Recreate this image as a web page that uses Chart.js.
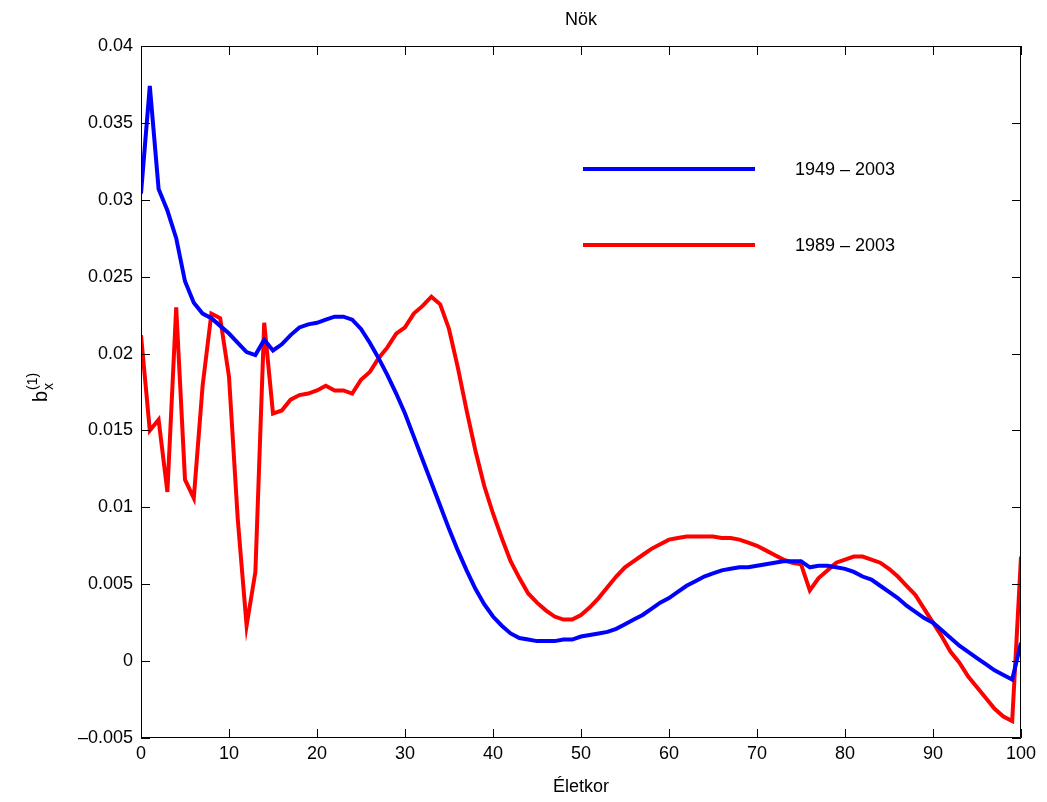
<!DOCTYPE html>
<html lang="hu">
  <head>
    <meta charset="UTF-8" />
    <title>Nök</title>
    <style>
      body {
        margin: 0;
        background: #fff;
      }
      #wrap {
        width: 1047px;
        height: 802px;
      }
    </style>
    <script src="https://cdn.jsdelivr.net/npm/chart.js"></script>
  </head>
  <body>
    <div id="wrap"><canvas id="bx"></canvas></div>

    <script>
      // ages 0..100
      const ages = Array.from({ length: 101 }, (_, i) => i);

      // b_x(1), 1949 - 2003
      const b1949 = [
        0.0304, 0.0374, 0.0307, 0.0293, 0.0275, 0.0247, 0.0233, 0.0226, 0.0223, 0.0218,
        0.0213, 0.0207, 0.0201, 0.0199, 0.0209, 0.0202, 0.0206, 0.0212, 0.0217, 0.0219,
        0.022, 0.0222, 0.0224, 0.0224, 0.0222, 0.0216, 0.0207, 0.0197, 0.0186, 0.0174,
        0.0161, 0.0146, 0.0131, 0.0116, 0.0101, 0.0086, 0.0072, 0.0059, 0.0047, 0.0037,
        0.0029, 0.0023, 0.0018, 0.0015, 0.0014, 0.0013, 0.0013, 0.0013, 0.0014, 0.0014,
        0.0016, 0.0017, 0.0018, 0.0019, 0.0021, 0.0024, 0.0027, 0.003, 0.0034, 0.0038,
        0.0041, 0.0045, 0.0049, 0.0052, 0.0055, 0.0057, 0.0059, 0.006, 0.0061, 0.0061,
        0.0062, 0.0063, 0.0064, 0.0065, 0.0065, 0.0065, 0.0061, 0.0062, 0.0062, 0.0061,
        0.006, 0.0058, 0.0055, 0.0053, 0.0049, 0.0045, 0.0041, 0.0036, 0.0032, 0.0028,
        0.0025, 0.002, 0.0015, 0.001, 0.0006, 0.0002, -0.0002, -0.0006, -0.0009, -0.0012,
        0.0012,
      ];

      // b_x(1), 1989 - 2003
      const b1989 = [
        0.0212, 0.015, 0.0157, 0.011, 0.023, 0.0118, 0.0106, 0.0179, 0.0226, 0.0223,
        0.0185, 0.0092, 0.0023, 0.0058, 0.022, 0.0161, 0.0163, 0.017, 0.0173, 0.0174,
        0.0176, 0.0179, 0.0176, 0.0176, 0.0174, 0.0183, 0.0188, 0.0197, 0.0204, 0.0213,
        0.0217, 0.0226, 0.0231, 0.0237, 0.0232, 0.0216, 0.0191, 0.0163, 0.0137, 0.0114,
        0.0096, 0.008, 0.0065, 0.0054, 0.0044, 0.0038, 0.0033, 0.0029, 0.0027, 0.0027,
        0.003, 0.0035, 0.0041, 0.0048, 0.0055, 0.0061, 0.0065, 0.0069, 0.0073, 0.0076,
        0.0079, 0.008, 0.0081, 0.0081, 0.0081, 0.0081, 0.008, 0.008, 0.0079, 0.0077,
        0.0075, 0.0072, 0.0069, 0.0066, 0.0064, 0.0063, 0.0046, 0.0054, 0.0059, 0.0064,
        0.0066, 0.0068, 0.0068, 0.0066, 0.0064, 0.006, 0.0055, 0.0049, 0.0043, 0.0034,
        0.0025, 0.0016, 0.0006, -0.0001, -0.001, -0.0017, -0.0024, -0.0031, -0.0036, -0.0039,
        0.0068,
      ];

      const seriesLabels = ["1949 \u2013 2003", "1989 \u2013 2003"];
      const xTicks = [0, 10, 20, 30, 40, 50, 60, 70, 80, 90, 100];
      const yTicks = [-0.005, 0, 0.005, 0.01, 0.015, 0.02, 0.025, 0.03, 0.035, 0.04];

      const FONT = "'Liberation Sans', Arial, sans-serif";

      function fmtY(v) {
        const r = Math.round(v * 1000) / 1000;
        if (r === 0) return "0";
        const s = String(Math.abs(r));
        return r < 0 ? "\u2013" + s : s;
      }

      // matlab style frame: box + inward ticks on all four sides
      const framePlugin = {
        id: "frame",
        afterDraw(chart) {
          const { ctx, chartArea: a } = chart;
          const xs = chart.scales.x;
          const ys = chart.scales.y;
          const len = 9;
          ctx.save();
          ctx.strokeStyle = "#000";
          ctx.lineWidth = 1;
          ctx.beginPath();
          ctx.rect(a.left + 0.5, a.top + 0.5, a.right - a.left - 1, a.bottom - a.top - 1);
          xTicks.forEach((t) => {
            const px = Math.round(xs.getPixelForValue(t)) + 0.5;
            ctx.moveTo(px, a.bottom);
            ctx.lineTo(px, a.bottom - len);
            ctx.moveTo(px, a.top);
            ctx.lineTo(px, a.top + len);
          });
          yTicks.forEach((t) => {
            const py = Math.round(ys.getPixelForValue(t)) + 0.5;
            ctx.moveTo(a.left, py);
            ctx.lineTo(a.left + len, py);
            ctx.moveTo(a.right, py);
            ctx.lineTo(a.right - len, py);
          });
          ctx.stroke();

          // title
          ctx.fillStyle = "#000";
          ctx.font = "18px " + FONT;
          ctx.textAlign = "center";
          ctx.textBaseline = "alphabetic";
          ctx.fillText("N\u00f6k", (a.left + a.right) / 2, 25);

          // y axis label b_x^(1)
          ctx.translate(47, 402);
          ctx.rotate(-Math.PI / 2);
          ctx.textAlign = "left";
          ctx.font = "20px " + FONT;
          ctx.fillText("b", 0, 0);
          const bw = ctx.measureText("b").width;
          ctx.font = "14px " + FONT;
          ctx.fillText("x", bw + 1, 6);
          ctx.fillText("(1)", bw + 1, -10);
          ctx.restore();
        },
      };

      // legend inside plot area, no box
      const legendPlugin = {
        id: "innerLegend",
        afterDraw(chart) {
          const { ctx } = chart;
          ctx.save();
          ctx.font = "18px " + FONT;
          ctx.textBaseline = "middle";
          ctx.textAlign = "left";
          chart.data.datasets.forEach((ds, i) => {
            const y = 169 + i * 76;
            ctx.strokeStyle = ds.borderColor;
            ctx.lineWidth = 4;
            ctx.beginPath();
            ctx.moveTo(583, y);
            ctx.lineTo(755, y);
            ctx.stroke();
            ctx.fillStyle = "#000";
            ctx.fillText(ds.label, 795, y + 1);
          });
          ctx.restore();
        },
      };

      const ctx = document.getElementById("bx").getContext("2d");
      const chart = new Chart(ctx, {
        type: "line",
        data: {
          datasets: [
            {
              label: seriesLabels[0],
              data: ages.map((a, i) => ({ x: a, y: b1949[i] })),
              borderColor: "#0000ff",
              borderWidth: 4,
              pointRadius: 0,
              tension: 0,
            },
            {
              label: seriesLabels[1],
              data: ages.map((a, i) => ({ x: a, y: b1989[i] })),
              borderColor: "#ff0000",
              borderWidth: 4,
              pointRadius: 0,
              tension: 0,
            },
          ],
        },
        options: {
          responsive: true,
          maintainAspectRatio: false,
          animation: false,
          layout: { padding: { top: 46, right: 26, left: 0, bottom: 0 } },
          plugins: {
            legend: { display: false },
            tooltip: { enabled: false },
          },
          scales: {
            x: {
              type: "linear",
              min: 0,
              max: 100,
              grid: { display: false, drawTicks: false },
              border: { display: false },
              afterBuildTicks: (s) => {
                s.ticks = xTicks.map((v) => ({ value: v }));
              },
              ticks: {
                color: "#000",
                font: { family: FONT, size: 18 },
                padding: 5,
                maxRotation: 0,
              },
              title: {
                display: true,
                text: "\u00c9letkor",
                color: "#000",
                font: { family: FONT, size: 18 },
                padding: { top: 0 },
              },
              afterFit: (s) => {
                s.height = 64;
              },
            },
            y: {
              type: "linear",
              min: -0.005,
              max: 0.04,
              grid: { display: false, drawTicks: false },
              border: { display: false },
              afterBuildTicks: (s) => {
                s.ticks = yTicks.map((v) => ({ value: v }));
              },
              ticks: {
                color: "#000",
                font: { family: FONT, size: 18 },
                padding: 8,
                callback: (v) => fmtY(v),
              },
              afterFit: (s) => {
                s.width = 141;
              },
            },
          },
        },
        plugins: [framePlugin, legendPlugin],
      });
    </script>
  </body>
</html>
